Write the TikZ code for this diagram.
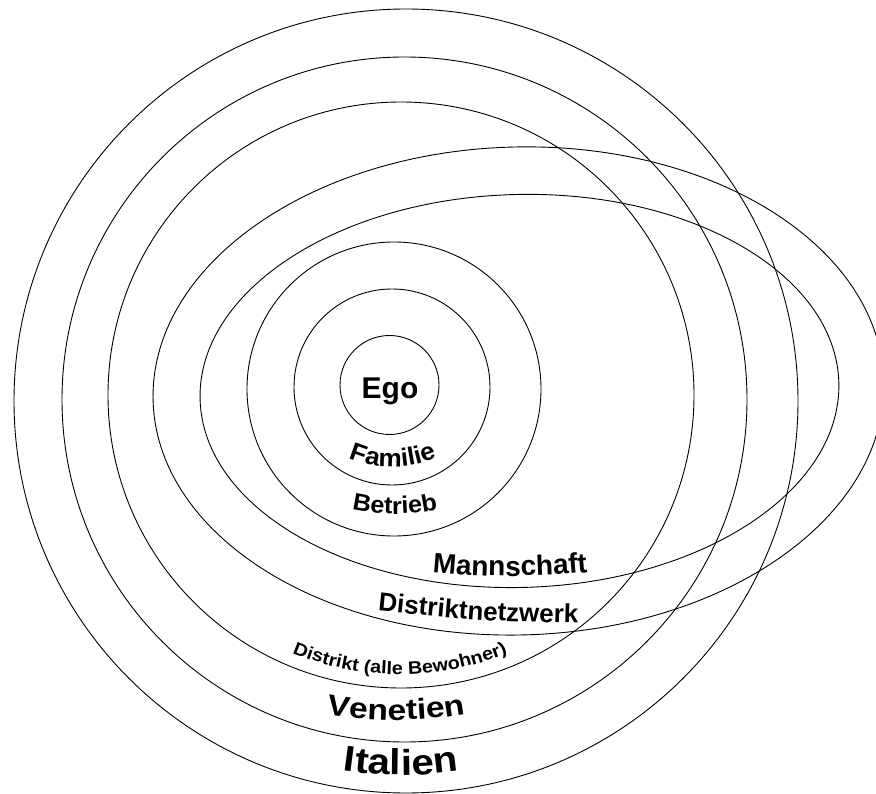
\documentclass[tikz,border=0pt]{standalone}
\usepackage{fontspec}
\setmainfont{Liberation Sans}
\newfontfamily\egofont{Liberation Sans Bold}
\newfontfamily\ringfontA[FakeStretch=1.05]{Liberation Sans Bold}
\newfontfamily\ringfontC[FakeStretch=1.10]{Liberation Sans Bold}
\newfontfamily\ringfontD[FakeStretch=1.16]{Liberation Sans Bold}
\newfontfamily\ringfontE[FakeStretch=1.12]{Liberation Sans Bold}
\usetikzlibrary{decorations.text}

\tikzset{
  ring/.style={draw=black, line width=0.9pt},
  ringtext/.style={decorate},
}

\begin{document}
\begin{tikzpicture}[x=1pt,y=1pt]
  \fill[white] (0,0) rectangle (876,-794);
  \useasboundingbox (0,0) rectangle (876,-794);

  % centres of the nested circles and ellipses
  \coordinate (cItalien)  at (406,-401);
  \coordinate (cVenetien) at (404.5,-399.5);
  \coordinate (cDistrikt) at (401,-395);
  \coordinate (cNetz)     at (518.5,-391);
  \coordinate (cMann)     at (519.5,-391);
  \coordinate (cBetrieb)  at (394,-389);
  \coordinate (cFamilie)  at (392,-387);
  \coordinate (cEgo)      at (389.5,-385);

  % rings
  \draw[ring] (cItalien)  circle (392);
  \draw[ring] (cVenetien) circle (342.5);
  \draw[ring] (cDistrikt) circle (293);
  \draw[ring, rotate around={1.5:(cNetz)}] (cNetz) ellipse [x radius=365.5, y radius=244];
  \draw[ring, rotate around={1.5:(cMann)}] (cMann) ellipse [x radius=319.5, y radius=196.5];
  \draw[ring] (cBetrieb)  circle (147);
  \draw[ring] (cFamilie)  circle (98);
  \draw[ring] (cEgo)      circle (49.5);

  % centre label
  \node[font=\egofont\fontsize{30}{36}\selectfont, anchor=base, inner sep=0pt] (ego) at (390,-398.7) {Ego};

  % curved labels: centres of the baseline arcs
  \coordinate (tFamilie)  at (393,-357);
  \coordinate (tBetrieb)  at (395,-314);
  \coordinate (tMann)     at (510,224);
  \coordinate (tDistrikt) at (400,-394.5);
  \coordinate (tVenetien) at (396,-320);
  \coordinate (tItalien)  at (401,-375);

  \path[ringtext, decoration={text along path, text align=center,
      text={|\ringfontA\fontsize{25}{29}\selectfont|Familie}}]
    ([shift={(235:110)}]tFamilie) arc[start angle=235, end angle=305, radius=110];

  \path[ringtext, decoration={text along path, text align=center,
      text={|\ringfontA\fontsize{24}{28}\selectfont|Betrieb}}]
    ([shift={(252:200)}]tBetrieb) arc[start angle=252, end angle=288, radius=200];

  \path[ringtext, decoration={text along path, text align=center,
      text={|\egofont\fontsize{28}{32}\selectfont|Mannschaft}}]
    ([shift={(263:800)}]tMann) arc[start angle=263, end angle=277, radius=800];

  \path[ringtext, decoration={text along path, text align=center,
      text={|\egofont\fontsize{26}{30}\selectfont|Distriktnetzwerk}}]
    (366,-609.5) .. controls (478,-621) .. (590,-623.5);

  \path[ringtext, decoration={text along path, text align=center,
      text={|\ringfontC\fontsize{18}{22}\selectfont|Distrikt (alle Bewohner)}}]
    ([shift={(240:280)}]tDistrikt) arc[start angle=240, end angle=300, radius=280];

  \path[ringtext, decoration={text along path, text align=center,
      text={|\ringfontD\fontsize{29}{33}\selectfont|Venetien}}]
    ([shift={(255:400)}]tVenetien) arc[start angle=255, end angle=285, radius=400];

  \path[ringtext, decoration={text along path, text align=center,
      text={|\ringfontE\fontsize{36}{40}\selectfont|Italien}}]
    ([shift={(258:400)}]tItalien) arc[start angle=258, end angle=282, radius=400];
\end{tikzpicture}
\end{document}
